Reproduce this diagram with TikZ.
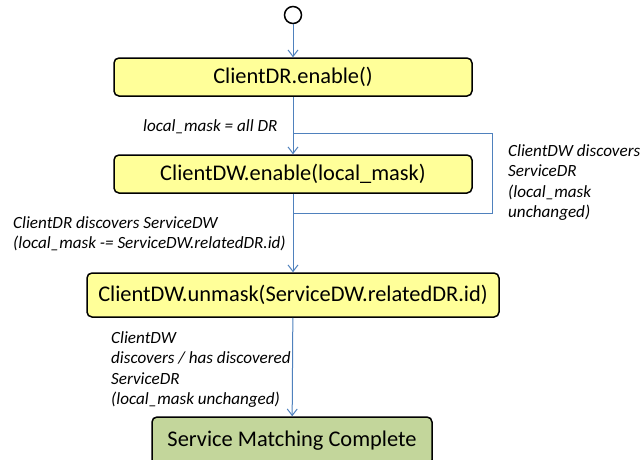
\documentclass[tikz,border=0pt]{standalone}
\usepackage{fontspec}
\setmainfont{Carlito}
\usetikzlibrary{arrows.meta}

\definecolor{flowblue}{RGB}{79,129,189}
\definecolor{boxyellow}{RGB}{255,255,153}
\definecolor{boxgreen}{RGB}{195,214,155}

\tikzset{
  statebox/.style={draw=black, line width=1.5pt, rounded corners=5pt, fill=boxyellow,
    font=\fontsize{22.4}{26}\selectfont, inner sep=0pt},
  flow/.style={->, >={Straight Barb[length=6.5pt,width=10pt]}, color=flowblue, line width=1pt},
  note/.style={font=\fontsize{17.1}{20.5}\selectfont\itshape, align=left, inner sep=0pt},
}

\begin{document}
\begin{tikzpicture}[x=1pt,y=-1pt]
    \useasboundingbox (0,0) rectangle (641,459);
    \node (start) at (293,15) [circle, draw=black, line width=1.5pt, minimum size=17pt, inner sep=0pt] {};
    \node (enableDR) at (293,77) [statebox, minimum width=358pt, minimum height=38pt] {ClientDR.enable()};
    \node (enableDW) at (293,174) [statebox, minimum width=358pt, minimum height=38pt] {ClientDW.enable(local\_mask)};
    \node (unmask) at (293,295) [statebox, minimum width=412pt, minimum height=44pt] {ClientDW.unmask(ServiceDW.relatedDR.id)};
    \node (done) at (292,441) [statebox, fill=boxgreen, minimum width=280pt, minimum height=48pt] {Service Matching Complete};
    \coordinate (looptop) at (293,133);
    \coordinate (loopbot) at (293,213);
    \coordinate (loopcorner) at (492,213);
    \draw [flow] (start) -- (enableDR);
    \draw [flow] (enableDR) -- (enableDW);
    \draw [flow] (enableDW) -- (unmask);
    \draw [flow] (unmask) -- (done);
    \draw [flow, -] (enableDW.south) -- (loopbot) -- (loopcorner) |- (looptop);
    \node (maskall) at (143,131) [note, anchor=base west] {local\_mask = all DR};
    \node (rediscover) at (508,144) [note, anchor=north west] {ClientDW discovers\\ServiceDR\\(local\_mask\\unchanged)};
    \node (discoverDW) at (13,216) [note, anchor=north west] {ClientDR discovers ServiceDW\\(local\_mask -= ServiceDW.relatedDR.id)};
    \node (discoverDR) at (111,331) [note, anchor=north west] {ClientDW\\discovers / has discovered\\ServiceDR\\(local\_mask unchanged)};
\end{tikzpicture}
\end{document}
